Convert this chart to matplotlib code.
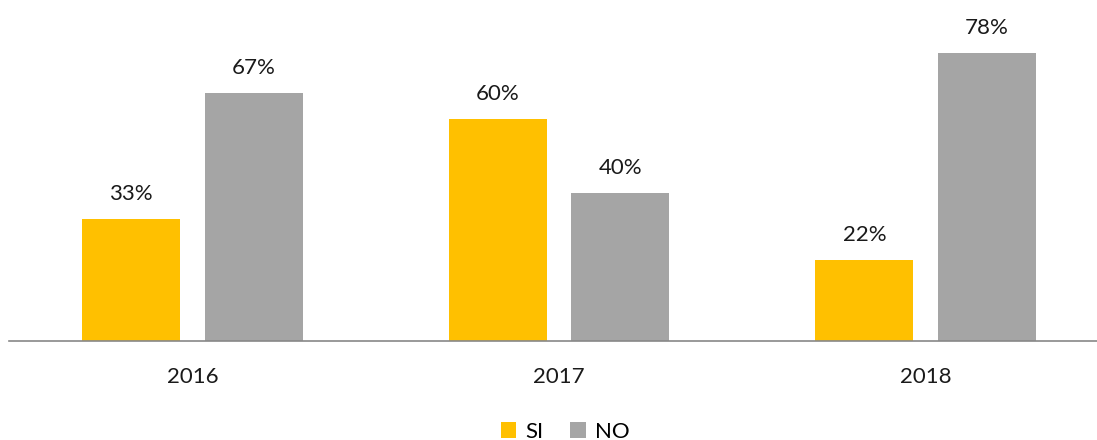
import matplotlib
matplotlib.use('Agg')
import matplotlib.pyplot as plt
import numpy as np

plt.rcParams['font.family'] = ['Lato', 'DejaVu Sans']

years = ['2016', '2017', '2018']
si = [33, 60, 22]
no = [67, 40, 78]
series_names = ['SI', 'NO']
colors = ['#FFC000', '#A5A5A5']

fig = plt.figure(figsize=(10.97, 4.4), dpi=100)
ax = fig.add_axes([9 / 1097, 99 / 440, 1 - 9 / 1097, 341 / 440])

x = np.arange(len(years))
w = 0.267
off = 0.167
b1 = ax.bar(x - off, si, w, color=colors[0], label=series_names[0])
b2 = ax.bar(x + off, no, w, color=colors[1], label=series_names[1])

for bars, vals in [(b1, si), (b2, no)]:
    for rect, v in zip(bars, vals):
        ax.annotate(f'{v}%', (rect.get_x() + rect.get_width() / 2, v),
                    xytext=(0, 15), textcoords='offset pixels',
                    ha='center', va='bottom', fontsize=16, color='#1a1a1a')

ax.set_xlim(-0.5, 2.5 - 12 / 367)
ax.set_ylim(0, 92.2)
ax.set_xticks(x)
ax.set_xticklabels(years, fontsize=16, color='#1a1a1a')
ax.tick_params(axis='x', length=0, pad=19)
ax.set_yticks([])
for s in ['top', 'right', 'left']:
    ax.spines[s].set_visible(False)
ax.spines['bottom'].set_color('#888888')
ax.spines['bottom'].set_linewidth(1.2)

fig.legend(loc='center', bbox_to_anchor=(565 / 1097, 8 / 440), ncol=2, frameon=False,
           fontsize=16, handlelength=0.7, handleheight=0.7, handletextpad=0.4,
           columnspacing=1.2, borderaxespad=0)

fig.savefig('out.png', dpi=100)
